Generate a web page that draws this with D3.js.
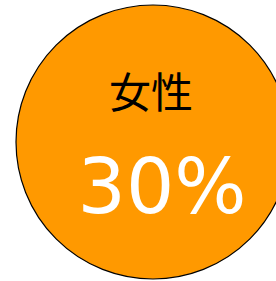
<!DOCTYPE html>
<html>
<head>
<meta charset="utf-8">
<script src="https://cdn.jsdelivr.net/npm/d3@7"></script>
<style>
  html, body { margin: 0; padding: 0; background: #fff; overflow: hidden; }
</style>
</head>
<body>
<svg id="chart" width="276" height="281"></svg>
<script>
// data
var labels = ["女性"];
var values = [30];
var valueLabels = ["30%"];

var svg = d3.select("#chart");

var cx = 153, cy = 142, radius = 137;

var g = svg.append("g")
    .attr("transform", `translate(${cx}, ${cy})`);

// one full slice for the bubble
var pie = d3.pie().value(function() { return 1; }).sort(null);
var arc = d3.arc().innerRadius(0).outerRadius(radius);

g.selectAll("path")
    .data(pie(values))
    .enter()
    .append("path")
    .attr("d", arc)
    .style("fill", "#ff9900")
    .style("stroke", "#000")
    .style("stroke-width", 1.2);

g.selectAll("text.label")
    .data(labels)
    .enter()
    .append("text")
    .attr("class", "label")
    .attr("x", -2)
    .attr("y", -34)
    .attr("text-anchor", "middle")
    .style("font-family", "'Noto Sans CJK JP', sans-serif")
    .style("font-size", "42px")
    .style("fill", "#000")
    .text(function(d) { return d; });

g.selectAll("text.value")
    .data(valueLabels)
    .enter()
    .append("text")
    .attr("class", "value")
    .attr("x", 9)
    .attr("y", 71)
    .attr("text-anchor", "middle")
    .style("font-family", "'DejaVu Sans', sans-serif")
    .style("font-size", "76px")
    .style("fill", "#fff")
    .text(function(d) { return d; });
</script>
</body>
</html>
